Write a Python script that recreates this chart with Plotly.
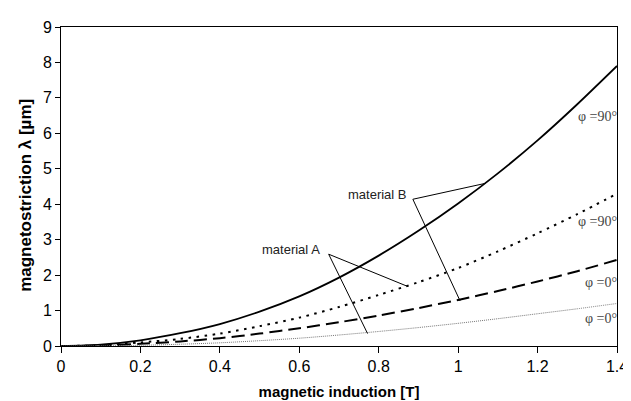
import plotly.graph_objects as go

# induction values [T]
induction = [0.0, 0.1, 0.2, 0.3, 0.4, 0.5, 0.6, 0.7, 0.8, 0.9, 1.0, 1.1, 1.2, 1.3, 1.4]

# magnetostriction [um]
mat_b_90 = [0.0, 0.04, 0.16, 0.36, 0.62, 0.97, 1.4, 1.93, 2.55, 3.25, 4.02, 4.87, 5.8, 6.82, 7.9]
mat_a_90 = [0.0, 0.02, 0.1, 0.2, 0.35, 0.56, 0.8, 1.1, 1.44, 1.8, 2.2, 2.67, 3.18, 3.72, 4.3]
mat_b_0 = [0.0, 0.01, 0.06, 0.13, 0.22, 0.35, 0.5, 0.67, 0.86, 1.07, 1.3, 1.55, 1.82, 2.11, 2.43]
mat_a_0 = [0.0, 0.005, 0.02, 0.05, 0.09, 0.15, 0.22, 0.31, 0.41, 0.52, 0.64, 0.77, 0.91, 1.05, 1.2]

x_ticks = [0, 0.2, 0.4, 0.6, 0.8, 1.0, 1.2, 1.4]
x_tick_labels = ["0", "0.2", "0.4", "0.6", "0.8", "1", "1.2", "1.4"]
y_ticks = [0, 1, 2, 3, 4, 5, 6, 7, 8, 9]

# callouts: label, label anchor (x, y), line start, line end points
callout_labels = ["material A", "material B"]
callout_text_pos = [(0.6575, 2.71), (0.875, 4.28)]
callout_starts = [(0.674, 2.59), (0.886, 4.14)]
callout_ends = [[(0.873, 1.68), (0.772, 0.35)], [(1.069, 4.59), (1.005, 1.27)]]

phi_labels = ["φ =90°", "φ =90°", "φ =0°", "φ =0°"]
phi_label_y = [6.47, 3.51, 1.79, 0.79]

fig = go.Figure()
fig.add_trace(go.Scatter(x=induction, y=mat_b_90, mode="lines",
                         line=dict(color="black", width=1.8, shape="spline", smoothing=0.8), name="B 90"))
fig.add_trace(go.Scatter(x=induction, y=mat_a_90, mode="lines",
                         line=dict(color="black", width=2, dash="2.5px,5.5px", shape="spline", smoothing=0.8), name="A 90"))
fig.add_trace(go.Scatter(x=induction, y=mat_b_0, mode="lines",
                         line=dict(color="black", width=2, dash="13px,6px", shape="spline", smoothing=0.8), name="B 0"))
fig.add_trace(go.Scatter(x=induction, y=mat_a_0, mode="lines",
                         line=dict(color="#777777", width=1, dash="1px,1px", shape="spline", smoothing=0.8), name="A 0"))

shapes = []
for start, ends in zip(callout_starts, callout_ends):
    for end in ends:
        shapes.append(dict(type="line", xref="x", yref="y",
                           x0=start[0], y0=start[1], x1=end[0], y1=end[1],
                           line=dict(color="black", width=1)))

plot_w = 631 - 53 - 10.5
plot_h = 401 - 14 - 62.5

annotations = []
for lab, pos in zip(callout_labels, callout_text_pos):
    annotations.append(dict(text=lab, x=pos[0], y=pos[1], xref="x", yref="y",
                            xanchor="right", yanchor="middle", showarrow=False,
                            font=dict(family="Liberation Sans, Arial", size=13, color="#222")))
for lab, yy in zip(phi_labels, phi_label_y):
    annotations.append(dict(text=lab, x=1.4, y=yy, xref="x", yref="y",
                            xanchor="right", yanchor="middle", showarrow=False, xshift=2,
                            font=dict(family="Liberation Serif, Times New Roman", size=14, color="#444")))
annotations.append(dict(text="<b>magnetostriction λ [µm]</b>",
                        x=(16 - 53) / plot_w, y=(401 - 62.5 - 185) / plot_h,
                        xref="paper", yref="paper", xanchor="center", yanchor="middle",
                        showarrow=False, textangle=-90,
                        font=dict(family="Liberation Sans, Arial", size=17, color="black")))

fig.update_layout(
    width=631, height=401,
    margin=dict(l=53, r=10.5, t=14, b=62.5),
    paper_bgcolor="white", plot_bgcolor="white",
    showlegend=False,
    shapes=shapes,
    annotations=annotations,
    font=dict(family="Liberation Sans, Arial", size=16, color="black"),
    xaxis=dict(range=[0, 1.4], tickvals=x_ticks, ticktext=x_tick_labels,
               showgrid=False, zeroline=False, showline=True, linecolor="black",
               linewidth=1, mirror=True, ticks="outside", ticklen=6, tickcolor="black",
               tickfont=dict(size=16),
               title=dict(text="<b>magnetic induction [T]</b>", font=dict(size=15), standoff=12)),
    yaxis=dict(range=[0, 9], tickvals=y_ticks,
               showgrid=False, zeroline=False, showline=True, linecolor="black",
               linewidth=1, mirror=True, ticks="outside", ticklen=5, tickcolor="black",
               tickfont=dict(size=16)),
)

fig.write_html("out.html")
